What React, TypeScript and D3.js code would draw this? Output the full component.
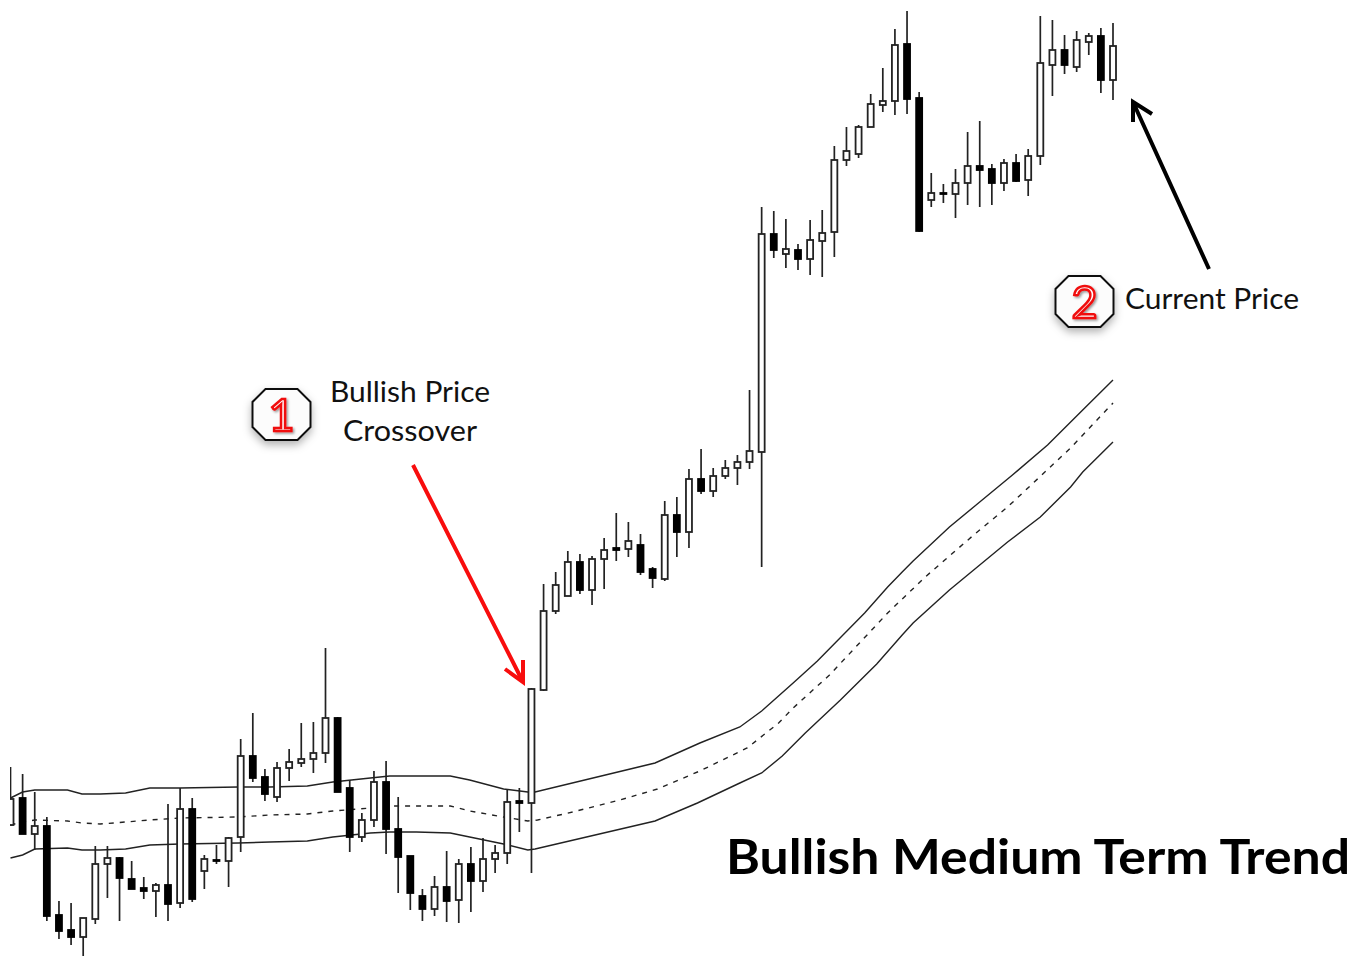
import React from "react";
import * as d3 from "d3";

// Candles, one entry per bar. Prices are chart units (no axis is shown).
const high = [189,182,164,139,55,53,38,110,110,99,95,79,73,152,168,158,101,111,119,217,243,187,194,207,233,234,308,239,176,143,185,195,159,100,67,80,105,97,109,118,111,167,168,268,372,384,405,402,400,418,443,434,422,389,455,459,487,507,488,496,501,566,749,745,737,712,736,746,810,829,831,862,888,927,945,864,783,772,787,824,835,792,797,802,807,940,936,921,925,923,928,933];
const bodyHigh = [157,158,130,130,41,26,38,92,98,98,77,68,71,71,147,147,97,96,118,200,200,179,188,194,197,203,238,238,168,136,174,174,127,100,60,69,69,92,92,97,103,154,155,267,345,371,394,394,397,406,408,415,411,387,441,441,477,477,480,488,494,505,722,722,707,706,716,723,796,805,829,852,855,911,912,858,763,763,773,790,790,787,793,793,800,893,906,906,916,920,920,910];
const bodyLow = [131,122,122,40,25,19,19,37,92,78,67,65,65,52,53,57,85,95,95,119,178,162,159,188,193,197,203,164,119,119,136,127,99,63,47,47,55,56,75,75,97,103,153,153,266,345,360,366,366,397,406,407,384,378,377,424,424,465,465,480,488,494,504,706,702,697,697,715,724,796,802,829,851,855,857,725,756,762,762,773,786,773,773,775,776,800,891,891,889,914,876,876];
const low = [131,122,106,35,17,11,0,32,58,35,67,57,39,35,48,54,67,92,69,104,174,155,154,175,189,183,193,164,104,114,129,102,63,46,35,40,34,33,44,64,83,92,124,83,265,342,360,362,351,367,395,399,381,368,375,399,408,462,459,477,471,487,389,698,688,686,681,679,699,790,798,829,844,841,842,724,749,753,738,751,749,751,765,774,760,791,860,882,884,901,863,856];
const bearishBars = [1,3,4,5,9,10,11,13,15,17,20,21,27,28,31,32,33,34,36,38,42,47,50,52,53,55,57,63,65,74,75,77,80,81,83,87,90];

// Envelope bands, each read at its own bar positions.
const upperBars = [0,1,2,4.7,5.9,7.4,9.5,11.5,14,18.8,21.4,24.5,26.6,29.7,31.3,33.5,36.3,37.9,40.7,42.7,43.3,53.2,56.9,60.2,62,64.6,66.6,70.5,72.4,73.6,74.5,77.5,79.5,82.7,85.6,88.5,91];
const upperBand = [158,164,166,166,162,162,163,168,168,169,169,170,174,178,180,180,180,176,167,164,164,193,213,229,245,273,295,343,369,384,395,429,449,481,511,546,576];
const middleBars = [0,1,2,4.7,5.9,7.4,9.5,11.5,14,18.8,21.4,24.5,26.6,29.7,31.3,33.5,36.3,37.9,40.7,42.7,43.5,46.4,50.3,53.4,56.9,60.8,63.4,64.6,67.6,72.4,75.5,79.5,82.3,87.5,91];
const middleBand = [131,134,136,135,133,132,134,136,138,139,141,142,145,148,150,150,150,145,139,135,136,144,156,167,185,208,233,248,281,343,379,421,449,508,553];
const lowerBars = [0,1,2,4.7,5.9,7.4,9.5,11.5,14,18.8,21.4,24.5,26.6,29.7,31.3,33.5,36.3,37.9,40.7,42.7,43.3,53.2,56.7,60.2,62,63.7,65.6,68.5,71.5,73.6,74.5,77.5,79.5,82.3,85,87.5,88.5,91];
const lowerBand = [98,101,107,108,106,106,107,111,112,113,114,115,119,123,124,124,123,119,112,106,107,135,153,173,183,200,223,256,292,321,333,366,386,414,439,469,484,514];

const labelBullish = ["Bullish Price", "Crossover"];
const labelCurrent = "Current Price";
const title = "Bullish Medium Term Trend";

const W = 1353;
const H = 956;
const INK = "#222";
const FONT = "Lato, Carlito, sans-serif";

const x = d3.scaleLinear().domain([0, 91]).range([10.5, 1113]);
const y = d3.scaleLinear().domain([0, 956]).range([956, 0]);

const bandLine = (bars: number[], vals: number[]) =>
  d3.line<number>().x((_, i) => x(bars[i])).y((v) => y(v))(vals) as string;

function octagon(cx: number, cy: number, rx: number, ry: number, c: number) {
  const p = [
    [cx - rx + c, cy - ry], [cx + rx - c, cy - ry], [cx + rx, cy - ry + c], [cx + rx, cy + ry - c],
    [cx + rx - c, cy + ry], [cx - rx + c, cy + ry], [cx - rx, cy + ry - c], [cx - rx, cy - ry + c],
  ];
  return "M" + p.map((q) => q.join(",")).join("L") + "Z";
}

function Badge({ cx, cy, n }: { cx: number; cy: number; n: string }) {
  return (
    <g>
      <path d={octagon(cx, cy, 29, 25.5, 13)} fill="#fcfcfc" stroke="#111" strokeWidth={2} filter="url(#badgeShadow)" />
      <text x={cx} y={cy + 16.5} textAnchor="middle" fontFamily={FONT} fontSize={45} fontWeight={400}
        fill="#fff" stroke="#f01010" strokeWidth={2.5} filter="url(#numShadow)">{n}</text>
    </g>
  );
}

function Arrow({ tail, tip, a, b, color }: { tail: number[]; tip: number[]; a: number[]; b: number[]; color: string }) {
  return (
    <path d={`M${tail}L${tip}M${a}L${tip}L${b}`} fill="none" stroke={color} strokeWidth={4}
      strokeLinejoin="miter" strokeLinecap="butt" />
  );
}

export default function App() {
  const bearish = new Set(bearishBars);
  return (
    <svg width={W} height={H} viewBox={`0 0 ${W} ${H}`}
      style={{ position: "absolute", left: 0, top: 0, background: "#fff", display: "block" }}>
      <defs>
        <clipPath id="plot"><rect x={10} y={0} width={W} height={H} /></clipPath>
        <filter id="badgeShadow" x="-30%" y="-30%" width="160%" height="170%">
          <feDropShadow dx={0} dy={4} stdDeviation={4} floodColor="#000" floodOpacity={0.3} />
        </filter>
        <filter id="numShadow" x="-30%" y="-30%" width="160%" height="160%">
          <feDropShadow dx={1.5} dy={1.5} stdDeviation={1} floodColor="#000" floodOpacity={0.4} />
        </filter>
      </defs>

      <g clipPath="url(#plot)">
        <path d={bandLine(upperBars, upperBand)} fill="none" stroke={INK} strokeWidth={1.4} />
        <path d={bandLine(middleBars, middleBand)} fill="none" stroke={INK} strokeWidth={1.4} strokeDasharray="5 6" />
        <path d={bandLine(lowerBars, lowerBand)} fill="none" stroke={INK} strokeWidth={1.4} />

        {high.map((h, i) => {
          const top = y(bodyHigh[i]);
          const bottom = y(bodyLow[i]);
          const dark = bearish.has(i);
          return (
            <g key={i}>
              <line x1={x(i)} x2={x(i)} y1={y(h)} y2={y(low[i])} stroke={INK} strokeWidth={1.7} />
              <rect x={x(i) - 3} y={top} width={6} height={Math.max(bottom - top, 0.5)}
                fill={dark ? "#000" : "#fff"} stroke={dark ? "#000" : INK} strokeWidth={1.8} />
            </g>
          );
        })}
      </g>

      <Arrow tail={[413, 465]} tip={[523, 682]} a={[505, 669]} b={[523, 660]} color="#f80d0d" />
      <Arrow tail={[1209, 269]} tip={[1133, 102]} a={[1133, 122]} b={[1152, 114]} color="#000" />

      <Badge cx={281.5} cy={414.5} n="1" />
      <Badge cx={1084.5} cy={301.5} n="2" />

      <g fontFamily={FONT} fill="#111" fontSize={29}>
        <text x={330} y={402} textLength={160} lengthAdjust="spacingAndGlyphs">{labelBullish[0]}</text>
        <text x={343} y={441} textLength={134} lengthAdjust="spacingAndGlyphs">{labelBullish[1]}</text>
        <text x={1125} y={309} textLength={174} lengthAdjust="spacingAndGlyphs">{labelCurrent}</text>
        <text x={726} y={874} fontSize={48} fontWeight={700} fill="#000" textLength={624} lengthAdjust="spacingAndGlyphs">{title}</text>
      </g>
    </svg>
  );
}
